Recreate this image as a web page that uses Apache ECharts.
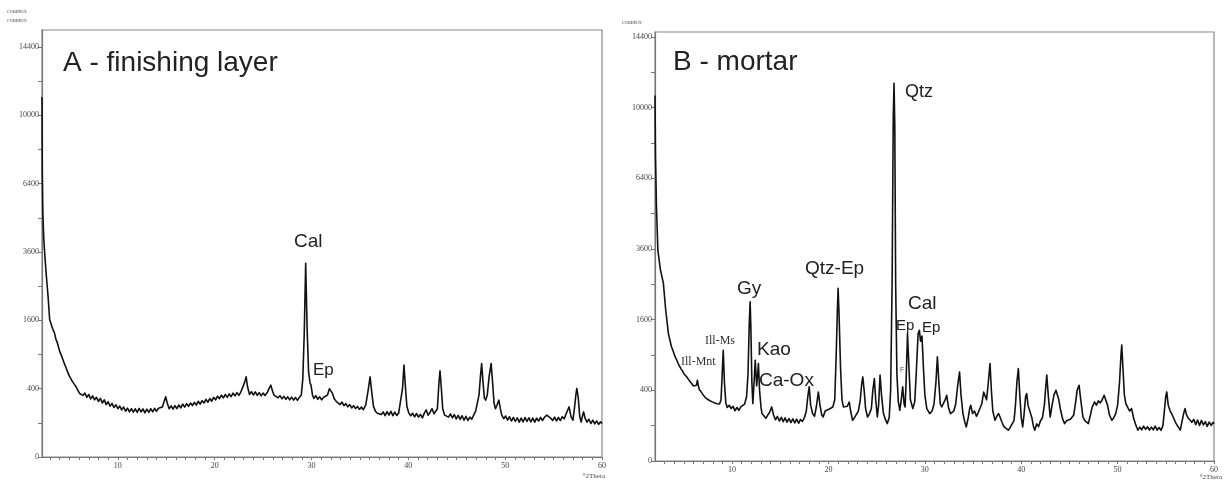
<!DOCTYPE html>
<html>
<head>
<meta charset="utf-8">
<script src="https://cdn.jsdelivr.net/npm/echarts@6/dist/echarts.min.js"></script>
<style>
html,body{margin:0;padding:0;background:#fff;}
#chart{width:1224px;height:482px;}
</style>
</head>
<body>
<div id="chart"></div>
<script>
// ---- Data: [2Theta (deg), counts/s] ----
const patternA = [
[2.17,11100],[2.2,7000],[2.25,5200],[2.35,4100],[2.5,3300],[2.65,2700],[2.8,2200],[2.96,1620],[3.1,1520],[3.25,1420],[3.47,1310],[3.6,1190],[3.75,1120],[3.99,960],[4.1,930],[4.25,850],[4.4,780],[4.5,760],[4.68,670],[4.85,610],[5.0,560],[5.15,540],[5.3,490],[5.5,455],[5.7,420],[5.85,385],[6.05,346],[6.25,365],[6.4,325],[6.6,350],[6.8,305],[7.0,335],[7.2,290],[7.4,320],[7.6,280],[7.8,305],[8.0,265],[8.2,295],[8.4,250],[8.6,280],[8.8,235],[9.0,262],[9.2,222],[9.4,246],[9.6,210],[9.8,234],[10.0,200],[10.2,222],[10.4,190],[10.6,214],[10.8,180],[11.0,204],[11.2,175],[11.4,200],[11.6,172],[11.8,199],[12.0,170],[12.2,202],[12.4,175],[12.6,198],[12.8,167],[13.0,196],[13.2,171],[13.4,200],[13.6,175],[13.8,202],[14.0,180],[14.2,204],[14.4,188],[14.6,215],[14.8,270],[14.95,310],[15.1,250],[15.3,200],[15.5,224],[15.7,196],[15.9,226],[16.1,200],[16.3,232],[16.5,207],[16.7,239],[16.9,213],[17.1,244],[17.3,220],[17.5,249],[17.7,227],[17.9,256],[18.1,231],[18.3,266],[18.5,240],[18.7,272],[18.9,250],[19.1,285],[19.3,257],[19.5,293],[19.7,267],[19.9,305],[20.1,280],[20.3,317],[20.5,291],[20.7,327],[20.9,300],[21.1,335],[21.3,305],[21.5,341],[21.7,313],[21.9,350],[22.1,320],[22.3,355],[22.5,325],[22.7,360],[22.9,380],[23.1,480],[23.25,550],[23.4,420],[23.6,335],[23.8,365],[24.0,330],[24.2,363],[24.4,325],[24.6,355],[24.8,320],[25.0,350],[25.2,325],[25.45,360],[25.65,410],[25.8,442],[25.95,380],[26.15,325],[26.35,322],[26.55,300],[26.75,322],[26.95,290],[27.15,315],[27.35,285],[27.55,310],[27.75,280],[27.95,307],[28.15,277],[28.35,303],[28.55,275],[28.75,305],[28.95,330],[29.1,520],[29.25,1300],[29.4,3217],[29.55,1400],[29.7,620],[29.85,470],[29.95,442],[30.1,330],[30.25,295],[30.45,322],[30.65,285],[30.85,310],[31.05,280],[31.25,305],[31.45,290],[31.65,330],[31.85,400],[32.0,421],[32.15,350],[32.35,290],[32.55,265],[32.75,255],[32.95,236],[33.15,259],[33.35,226],[33.55,244],[33.75,216],[33.95,236],[34.15,206],[34.35,226],[34.55,201],[34.75,219],[34.95,194],[35.15,214],[35.35,192],[35.6,230],[35.85,380],[36.05,550],[36.2,380],[36.4,220],[36.6,180],[36.8,164],[37.0,179],[37.2,154],[37.4,174],[37.6,146],[37.8,176],[38.0,151],[38.2,179],[38.4,146],[38.6,172],[38.8,148],[39.0,165],[39.2,180],[39.4,400],[39.55,723],[39.7,420],[39.85,220],[40.05,165],[40.25,146],[40.45,164],[40.65,138],[40.85,162],[41.05,136],[41.25,156],[41.45,131],[41.65,165],[41.85,190],[42.05,150],[42.25,172],[42.45,200],[42.65,160],[42.85,150],[43.0,200],[43.15,450],[43.27,636],[43.4,420],[43.55,200],[43.75,150],[43.95,162],[44.15,136],[44.35,159],[44.55,131],[44.75,154],[44.95,124],[45.15,149],[45.35,121],[45.55,146],[45.75,116],[45.95,142],[46.15,114],[46.35,136],[46.55,122],[46.75,150],[46.95,180],[47.15,260],[47.3,330],[47.45,560],[47.57,750],[47.7,500],[47.85,300],[47.98,277],[48.15,330],[48.35,560],[48.55,750],[48.7,480],[48.85,250],[49.0,200],[49.15,230],[49.35,277],[49.5,200],[49.65,150],[49.85,126],[50.05,144],[50.25,116],[50.45,139],[50.65,111],[50.85,134],[51.05,108],[51.25,132],[51.45,104],[51.65,129],[51.85,106],[52.05,134],[52.25,108],[52.45,132],[52.65,106],[52.85,130],[53.05,104],[53.25,129],[53.45,111],[53.65,134],[53.85,114],[54.05,135],[54.3,150],[54.5,164],[54.7,130],[54.9,114],[55.1,136],[55.3,111],[55.5,134],[55.7,114],[55.9,139],[56.1,125],[56.35,170],[56.6,215],[56.8,140],[57.0,116],[57.15,200],[57.3,330],[57.4,403],[57.55,300],[57.7,140],[57.85,105],[58.0,150],[58.1,174],[58.25,130],[58.45,104],[58.65,122],[58.85,96],[59.05,116],[59.25,94],[59.45,112],[59.65,91],[59.85,106],[60.0,96]
];

const patternB = [
[2.0,10700],[2.05,7500],[2.15,5200],[2.3,3550],[2.55,2950],[2.87,2525],[3.1,1850],[3.39,1300],[3.7,1050],[3.9,960],[4.09,868],[4.25,820],[4.4,760],[4.55,730],[4.7,680],[4.85,650],[5.0,610],[5.15,590],[5.3,566],[5.45,540],[5.55,520],[5.7,495],[5.8,480],[5.9,470],[6.0,450],[6.1,445],[6.2,430],[6.3,460],[6.4,523],[6.5,450],[6.6,410],[6.8,380],[7.0,350],[7.1,365],[7.2,325],[7.35,330],[7.45,305],[7.6,317],[7.7,291],[7.85,305],[7.95,280],[8.1,295],[8.2,270],[8.35,285],[8.45,263],[8.6,277],[8.7,260],[8.85,300],[8.97,600],[9.08,983],[9.2,500],[9.35,270],[9.5,230],[9.7,249],[9.9,221],[10.1,239],[10.3,202],[10.5,229],[10.7,206],[10.9,234],[11.1,225],[11.3,260],[11.5,330],[11.65,600],[11.78,1500],[11.87,2028],[11.95,1400],[12.05,500],[12.15,264],[12.28,500],[12.4,814],[12.55,450],[12.65,600],[12.73,761],[12.85,400],[13.0,230],[13.1,180],[13.3,170],[13.5,146],[13.7,169],[13.9,190],[14.1,234],[14.3,170],[14.5,136],[14.7,159],[14.9,128],[15.1,152],[15.3,124],[15.5,149],[15.7,121],[15.9,144],[16.1,118],[16.3,142],[16.5,116],[16.7,140],[16.9,114],[17.1,138],[17.3,125],[17.5,150],[17.7,200],[17.85,330],[18.0,440],[18.15,250],[18.35,180],[18.55,160],[18.75,240],[18.95,382],[19.1,260],[19.3,170],[19.45,155],[19.65,200],[19.85,185],[20.05,215],[20.25,205],[20.45,234],[20.65,300],[20.8,900],[20.92,1800],[21.0,2385],[21.1,1700],[21.25,700],[21.4,300],[21.55,234],[21.75,220],[21.95,240],[22.15,279],[22.3,200],[22.5,133],[22.7,150],[22.9,160],[23.1,200],[23.3,300],[23.45,480],[23.56,566],[23.7,400],[23.85,220],[24.05,155],[24.25,180],[24.45,220],[24.6,400],[24.76,545],[24.9,300],[25.07,155],[25.2,250],[25.35,590],[25.5,350],[25.7,180],[25.9,140],[26.1,112],[26.3,150],[26.45,400],[26.6,2500],[26.72,9400],[26.8,11430],[26.88,9000],[26.97,2500],[27.1,600],[27.25,280],[27.4,206],[27.55,300],[27.7,440],[27.85,260],[27.95,234],[28.05,500],[28.2,1303],[28.35,700],[28.5,300],[28.75,220],[28.95,280],[29.1,600],[29.3,1300],[29.43,1370],[29.55,1150],[29.7,1250],[29.85,700],[30.0,350],[30.2,220],[30.5,180],[30.75,200],[30.95,260],[31.15,500],[31.3,868],[31.45,500],[31.6,260],[31.75,234],[31.95,250],[32.1,300],[32.27,346],[32.45,230],[32.65,180],[32.8,180],[33.0,200],[33.2,260],[33.4,450],[33.6,635],[33.75,350],[33.95,180],[34.15,120],[34.3,93],[34.5,150],[34.65,220],[34.76,249],[34.95,180],[35.15,200],[35.35,160],[35.55,190],[35.7,180],[35.9,260],[36.1,380],[36.25,401],[36.4,300],[36.55,450],[36.76,761],[36.9,400],[37.05,200],[37.28,133],[37.5,165],[37.65,180],[37.8,155],[38.0,120],[38.2,95],[38.4,88],[38.66,76],[38.85,90],[39.05,100],[39.25,130],[39.4,250],[39.55,500],[39.7,685],[39.85,350],[40.0,150],[40.15,93],[40.3,180],[40.45,330],[40.57,364],[40.7,250],[40.9,234],[41.1,150],[41.25,100],[41.4,76],[41.6,110],[41.8,95],[42.0,130],[42.2,150],[42.4,250],[42.55,450],[42.65,590],[42.8,350],[43.0,155],[43.2,250],[43.4,350],[43.6,401],[43.75,380],[43.9,300],[44.1,200],[44.3,140],[44.5,112],[44.7,130],[44.9,120],[45.1,140],[45.25,133],[45.45,170],[45.65,280],[45.8,400],[46.0,460],[46.15,320],[46.4,155],[46.6,130],[46.8,140],[46.96,112],[47.15,160],[47.35,230],[47.6,279],[47.8,250],[48.0,290],[48.2,270],[48.4,300],[48.6,346],[48.76,330],[48.95,250],[49.15,170],[49.4,133],[49.6,150],[49.8,180],[50.0,250],[50.2,500],[50.35,900],[50.43,1075],[50.55,700],[50.7,350],[50.85,264],[51.05,230],[51.25,200],[51.45,220],[51.65,150],[51.85,110],[52.1,76],[52.3,92],[52.5,78],[52.7,97],[52.9,80],[53.1,94],[53.3,76],[53.5,92],[53.7,78],[53.9,97],[54.1,76],[54.3,90],[54.5,75],[54.7,100],[54.85,200],[55.0,340],[55.1,382],[55.25,250],[55.45,200],[55.6,180],[55.8,150],[56.0,120],[56.2,100],[56.4,90],[56.5,76],[56.7,130],[56.85,180],[57.0,220],[57.15,170],[57.3,150],[57.5,140],[57.7,120],[57.9,139],[58.1,106],[58.3,134],[58.5,101],[58.7,132],[58.9,104],[59.1,124],[59.3,96],[59.5,122],[59.7,101],[59.9,119],[60.0,110]
];

// Tick values (counts/s shown on a square-root scale; 2Theta degrees)
const countTicks = [0, 400, 1600, 3600, 6400, 10000, 14400];
const countMinorTicks = [100, 900, 2500, 4900, 8100, 12100];
const thetaLabels = [10, 20, 30, 40, 50, 60];
const thetaTicks = [3,4,5,6,7,8,9,10,11,12,13,14,15,16,17,18,19,20,21,22,23,24,25,26,27,28,29,30,31,32,33,34,35,36,37,38,39,40,41,42,43,44,45,46,47,48,49,50,51,52,53,54,55,56,57,58,59,60];

const panelTitles = ['A - finishing layer', 'B - mortar'];
const yUnit = 'counts/s';
const xUnit = '°2Theta';

// ---- Build ----
const sq = v => Math.sqrt(v);
const toSqrt = arr => arr.map(p => [p[0], sq(p[1])]);
const sqTicks = countTicks.map(sq);
const allSqTicks = countTicks.concat(countMinorTicks).map(sq).sort((a,b)=>a-b);

const serif = '"Liberation Serif", "DejaVu Serif", serif';
const sans = '"Liberation Sans", Arial, sans-serif';

function xAxis(idx, min) {
  return {
    type: 'value', gridIndex: idx, min: min, max: 60,
    axisLine: {show: true, onZero: false, lineStyle: {color: '#777', width: 1.2}},
    axisTick: {show: true, inside: false, length: 3, customValues: thetaTicks, lineStyle: {color: '#777'}},
    axisLabel: {customValues: thetaLabels, fontSize: 8, fontFamily: serif, color: '#444', margin: 5},
    splitLine: {show: false}
  };
}
function yAxis(idx, max) {
  return {
    type: 'value', gridIndex: idx, min: 0, max: max,
    axisLine: {show: true, lineStyle: {color: '#777', width: 1.2}},
    axisTick: {show: true, length: 4, customValues: allSqTicks, lineStyle: {color: '#777'}},
    axisLabel: {customValues: sqTicks, fontSize: 8, fontFamily: serif, color: '#444', margin: 3,
      formatter: v => String(Math.round(v * v))},
    splitLine: {show: false}
  };
}

const lineStyle = {color: '#111', width: 1.6, join: 'round'};

function txt(text, x, y, size, font, color, align) {
  return {type: 'text', x: x, y: y, silent: true,
    style: {text: text, font: size + 'px ' + (font || sans), fill: color || '#222',
      align: align || 'left', verticalAlign: 'middle'}};
}

const option = {
  animation: false,
  backgroundColor: '#fff',
  grid: [
    {left: 42, top: 30, width: 560, height: 427, show: true, borderColor: '#888', borderWidth: 1.2, backgroundColor: 'transparent'},
    {left: 655, top: 32, width: 559, height: 429, show: true, borderColor: '#888', borderWidth: 1.2, backgroundColor: 'transparent'}
  ],
  xAxis: [xAxis(0, 2.17), xAxis(1, 2.0)],
  yAxis: [yAxis(0, 125), yAxis(1, 121.4)],
  series: [
    {type: 'line', xAxisIndex: 0, yAxisIndex: 0, data: toSqrt(patternA), showSymbol: false, symbol: 'none', lineStyle: lineStyle, clip: true},
    {type: 'line', xAxisIndex: 1, yAxisIndex: 1, data: toSqrt(patternB), showSymbol: false, symbol: 'none', lineStyle: lineStyle, clip: true}
  ],
  graphic: [
    txt(panelTitles[0], 63, 63, 28, sans, '#222'),
    txt(panelTitles[1], 673, 62, 28, sans, '#222'),
    txt(yUnit, 7, 11, 6, serif, '#555'),
    txt(yUnit, 7, 20, 6, serif, '#555'),
    txt(yUnit, 622, 22, 6, serif, '#555'),
    txt(xUnit, 605, 476, 7, serif, '#444', 'right'),
    txt(xUnit, 1222, 477, 7, serif, '#444', 'right'),
    // Panel A annotations
    txt('Cal', 294, 242, 19, sans, '#222'),
    txt('Ep', 313, 370, 17, sans, '#222'),
    // Panel B annotations
    txt('Qtz', 905, 92, 18, sans, '#222'),
    txt('Qtz-Ep', 805, 269, 19, sans, '#222'),
    txt('Gy', 737, 289, 19, sans, '#222'),
    txt('Kao', 757, 350, 19, sans, '#222'),
    txt('Ca-Ox', 759, 381, 19, sans, '#222'),
    txt('Ill-Ms', 705, 341, 12, serif, '#333'),
    txt('Ill-Mnt', 681, 362, 12, serif, '#333'),
    txt('Cal', 908, 304, 19, sans, '#222'),
    txt('Ep', 896, 326, 15, sans, '#222'),
    txt('Ep', 922, 328, 15, sans, '#222'),
    txt('F', 900, 370, 7, sans, '#555')
  ]
};

const chart = echarts.init(document.getElementById('chart'), null, {renderer: 'canvas'});
chart.setOption(option);
</script>
</body>
</html>
